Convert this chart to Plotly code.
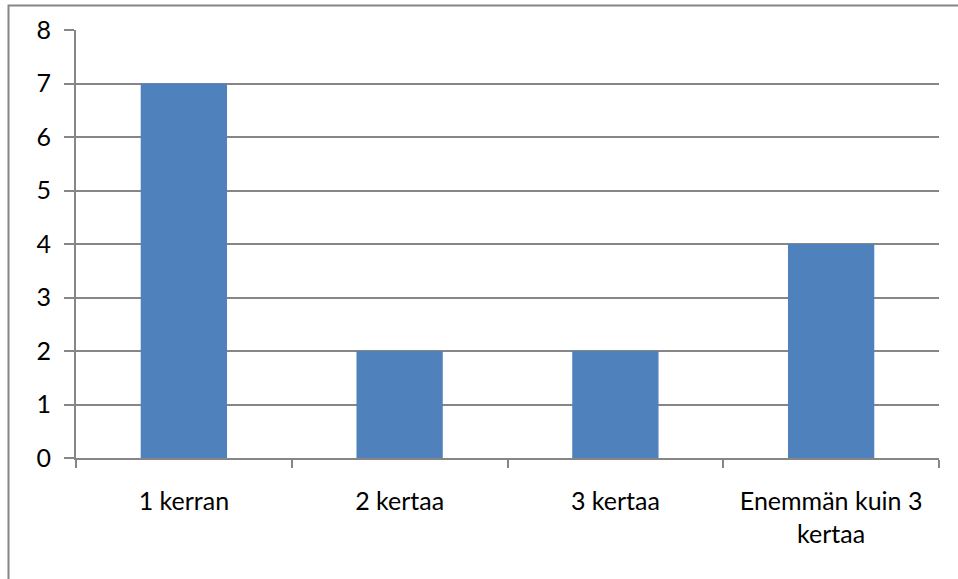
import plotly.graph_objects as go

# Category labels and counts
categories = ["1 kerran", "2 kertaa", "3 kertaa", "Enemmän kuin 3<br>kertaa"]
counts = [7, 2, 2, 4]
y_ticks = [0, 1, 2, 3, 4, 5, 6, 7, 8]

W, H = 958, 579
L, R, T, B = 76, 939, 30, 458

AXIS_GRAY = "#868686"
BAR_BLUE = "#4F81BD"
FONT = dict(family="Lato, Liberation Sans, sans-serif", size=25, color="#000000")

fig = go.Figure(
    go.Bar(
        x=categories,
        y=counts,
        marker=dict(color=BAR_BLUE, line=dict(width=0)),
        hoverinfo="x+y",
    )
)

pw, ph = R - L, B - T

fig.update_layout(
    width=W,
    height=H,
    margin=dict(l=L, r=W - R, t=T, b=H - B, pad=0),
    paper_bgcolor="white",
    plot_bgcolor="white",
    bargap=0.6,
    showlegend=False,
    font=FONT,
    xaxis=dict(
        type="category",
        tickson="boundaries",
        ticks="outside",
        ticklen=8,
        tickwidth=2,
        tickcolor=AXIS_GRAY,
        showline=True,
        linecolor=AXIS_GRAY,
        linewidth=2,
        showgrid=False,
        ticklabelstandoff=20,
        tickfont=FONT,
        fixedrange=True,
    ),
    yaxis=dict(
        range=[0, 8],
        tickmode="array",
        tickvals=y_ticks,
        ticktext=[str(v) for v in y_ticks],
        ticks="outside",
        ticklen=10,
        tickwidth=2,
        tickcolor=AXIS_GRAY,
        showline=True,
        linecolor=AXIS_GRAY,
        linewidth=2,
        showgrid=True,
        gridcolor=AXIS_GRAY,
        gridwidth=2,
        zeroline=False,
        ticklabelstandoff=8,
        tickfont=FONT,
        fixedrange=True,
    ),
    shapes=[
        # outer chart frame
        dict(
            type="rect",
            xref="paper",
            yref="paper",
            x0=(8.5 - L) / pw,
            x1=(W + 5 - L) / pw,
            y0=1 - (H + 5 - T) / ph,
            y1=1 + (T - 5.5) / ph,
            line=dict(color=AXIS_GRAY, width=2),
            fillcolor="rgba(0,0,0,0)",
            layer="below",
        )
    ],
)

fig.write_html("out.html")
